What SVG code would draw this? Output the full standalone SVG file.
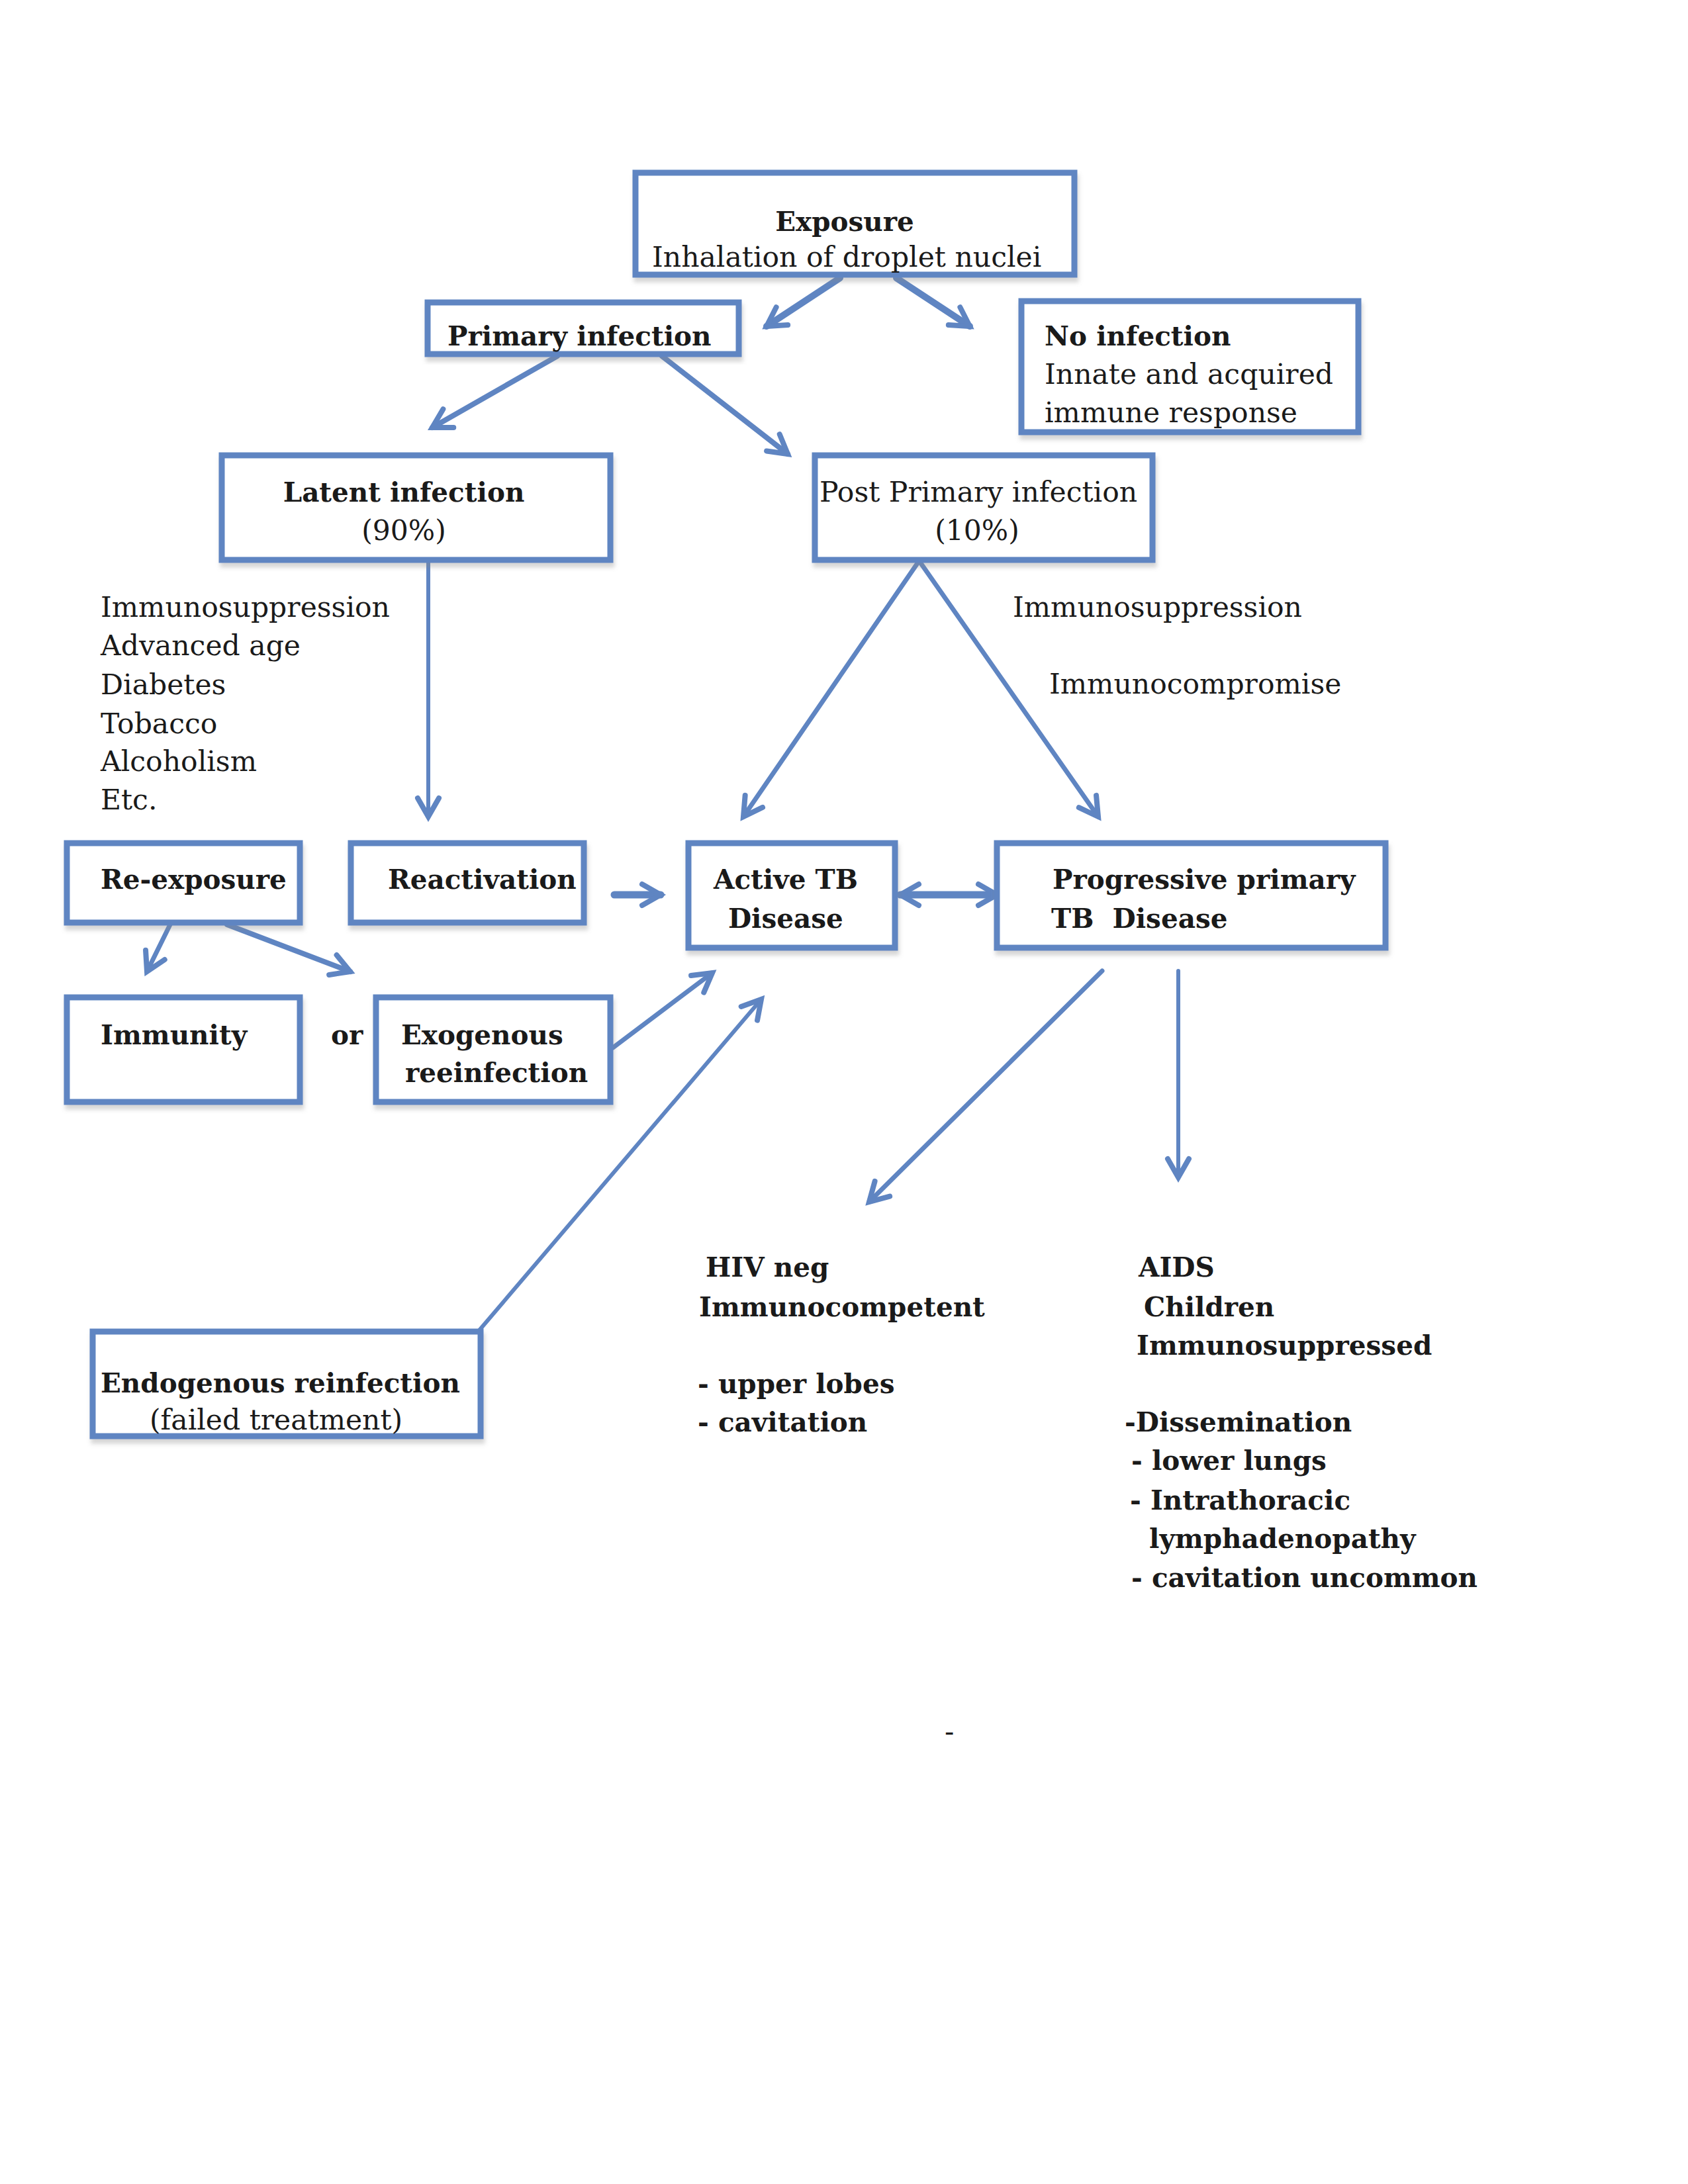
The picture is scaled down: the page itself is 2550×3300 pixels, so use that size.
<svg xmlns="http://www.w3.org/2000/svg" width="2550" height="3300" viewBox="0 0 2550 3300">
<style>
.box{fill:#fff;stroke:#5F85C2;stroke-width:9;filter:url(#sh)}
.t{font-family:"DejaVu Serif","Liberation Serif",serif;font-size:42.5px;fill:#1a1a1a}
.b{font-weight:bold;font-size:40.5px}
.c{stroke:#5F85C2;fill:none;stroke-linecap:round}
</style>
<defs>
<filter id="sh" x="-10%" y="-10%" width="120%" height="130%">
<feDropShadow dx="2" dy="7" stdDeviation="3" flood-color="#888" flood-opacity="0.35"/>
</filter>
<marker id="a" markerUnits="userSpaceOnUse" markerWidth="44" markerHeight="44" refX="34" refY="22" orient="auto-start-reverse" viewBox="0 0 44 44">
<path d="M6,6 L34,22 L6,38" fill="none" stroke="#5F85C2" stroke-width="8" stroke-linejoin="miter" stroke-linecap="round"/>
</marker>
</defs>
<g id="connectors">
<line class="c" x1="1269" y1="420" x2="1158" y2="493" stroke-width="10" marker-end="url(#a)"/>
<line class="c" x1="1354" y1="420" x2="1465" y2="493" stroke-width="10" marker-end="url(#a)"/>
<line class="c" x1="842" y1="538" x2="653" y2="646" stroke-width="8" marker-end="url(#a)"/>
<line class="c" x1="1000" y1="538" x2="1190" y2="686" stroke-width="8" marker-end="url(#a)"/>
<line class="c" x1="647" y1="850" x2="647" y2="1234" stroke-width="6" marker-end="url(#a)"/>
<line class="c" x1="1386" y1="851" x2="1123" y2="1234" stroke-width="7" marker-end="url(#a)"/>
<line class="c" x1="1391" y1="851" x2="1659" y2="1234" stroke-width="7" marker-end="url(#a)"/>
<line class="c" x1="928" y1="1352" x2="998" y2="1352" stroke-width="11" marker-end="url(#a)"/>
<line class="c" x1="1360" y1="1352" x2="1506" y2="1352" stroke-width="11" marker-start="url(#a)" marker-end="url(#a)"/>
<line class="c" x1="257" y1="1397" x2="222" y2="1468" stroke-width="7" marker-end="url(#a)"/>
<line class="c" x1="343" y1="1397" x2="529" y2="1468" stroke-width="8" marker-end="url(#a)"/>
<line class="c" x1="926" y1="1583" x2="1076" y2="1470" stroke-width="7" marker-end="url(#a)"/>
<line class="c" x1="724" y1="2010" x2="1150" y2="1510" stroke-width="6" marker-end="url(#a)"/>
<line class="c" x1="1665" y1="1467" x2="1313" y2="1816" stroke-width="7" marker-end="url(#a)"/>
<line class="c" x1="1780" y1="1467" x2="1780" y2="1779" stroke-width="6" marker-end="url(#a)"/>
</g>
<g id="exposure">
<rect class="box" x="960" y="261" width="663" height="154"/>
<text class="t b" x="1276" y="349" text-anchor="middle">Exposure</text>
<text class="t" x="985" y="403">Inhalation of droplet nuclei</text>
</g>
<g id="primary">
<rect class="box" x="646" y="457" width="470" height="78"/>
<text class="t b" x="676" y="522">Primary infection</text>
</g>
<g id="noinfection">
<rect class="box" x="1543" y="455" width="509" height="198"/>
<text class="t b" x="1578" y="522">No infection</text>
<text class="t" x="1578" y="580">Innate and acquired</text>
<text class="t" x="1578" y="638">immune response</text>
</g>
<g id="latent">
<rect class="box" x="335" y="688" width="587" height="158"/>
<text class="t b" x="610" y="758" text-anchor="middle">Latent infection</text>
<text class="t" x="610" y="816" text-anchor="middle">(90%)</text>
</g>
<g id="postprimary">
<rect class="box" x="1231" y="688" width="510" height="158"/>
<text class="t" x="1238" y="758">Post Primary infection</text>
<text class="t" x="1476" y="816" text-anchor="middle">(10%)</text>
</g>
<g id="riskfactors">
<text class="t" x="152" y="932">Immunosuppression</text>
<text class="t" x="152" y="990">Advanced age</text>
<text class="t" x="152" y="1049">Diabetes</text>
<text class="t" x="152" y="1108">Tobacco</text>
<text class="t" x="152" y="1165">Alcoholism</text>
<text class="t" x="152" y="1223">Etc.</text>
</g>
<g id="rightfactors">
<text class="t" x="1530" y="932">Immunosuppression</text>
<text class="t" x="1585" y="1048">Immunocompromise</text>
</g>
<g id="reexposure">
<rect class="box" x="101" y="1274" width="352" height="120"/>
<text class="t b" x="152" y="1343">Re-exposure</text>
</g>
<g id="reactivation">
<rect class="box" x="530" y="1274" width="352" height="120"/>
<text class="t b" x="586" y="1343">Reactivation</text>
</g>
<g id="activetb">
<rect class="box" x="1040" y="1274" width="312" height="158"/>
<text class="t b" x="1078" y="1343">Active TB</text>
<text class="t b" x="1100" y="1402">Disease</text>
</g>
<g id="progressive">
<rect class="box" x="1506" y="1274" width="587" height="158"/>
<text class="t b" x="1590" y="1343">Progressive primary</text>
<text class="t b" x="1588" y="1402" xml:space="preserve">TB  Disease</text>
</g>
<g id="immunity">
<rect class="box" x="101" y="1507" width="352" height="158"/>
<text class="t b" x="152" y="1578">Immunity</text>
</g>
<text class="t b" x="500" y="1578">or</text>
<g id="exogenous">
<rect class="box" x="568" y="1507" width="354" height="158"/>
<text class="t b" x="606" y="1578">Exogenous</text>
<text class="t b" x="612" y="1635">reeinfection</text>
</g>
<g id="endogenous">
<rect class="box" x="140" y="2012" width="586" height="158"/>
<text class="t b" x="152" y="2104">Endogenous reinfection</text>
<text class="t" x="226" y="2160">(failed treatment)</text>
</g>
<g id="hivneg">
<text class="t b" x="1066" y="1929">HIV neg</text>
<text class="t b" x="1056" y="1989">Immunocompetent</text>
<text class="t b" x="1054" y="2105">- upper lobes</text>
<text class="t b" x="1054" y="2163">- cavitation</text>
</g>
<g id="aids">
<text class="t b" x="1720" y="1929">AIDS</text>
<text class="t b" x="1728" y="1989">Children</text>
<text class="t b" x="1717" y="2047">Immunosuppressed</text>
<text class="t b" x="1699" y="2163">-Dissemination</text>
<text class="t b" x="1709" y="2221">- lower lungs</text>
<text class="t b" x="1707" y="2281">- Intrathoracic</text>
<text class="t b" x="1736" y="2339">lymphadenopathy</text>
<text class="t b" x="1709" y="2398">- cavitation uncommon</text>
</g>
<text class="t" x="1427" y="2631" font-size="34">-</text>
</svg>
